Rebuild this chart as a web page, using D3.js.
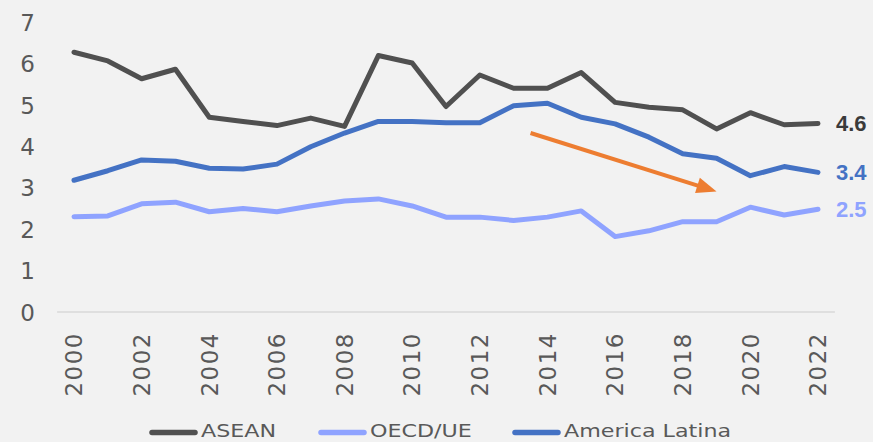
<!DOCTYPE html>
<html>
<head>
<meta charset="utf-8">
<script src="https://cdn.jsdelivr.net/npm/d3@7"></script>
<style>
  html, body { margin: 0; padding: 0; background: #f2f2f2; }
  svg { display: block; }
</style>
</head>
<body>
<svg id="chart" width="873" height="442"></svg>
<script>
const years = [2000,2001,2002,2003,2004,2005,2006,2007,2008,2009,2010,2011,2012,2013,2014,2015,2016,2017,2018,2019,2020,2021,2022];
const xTickYears = [2000,2002,2004,2006,2008,2010,2012,2014,2016,2018,2020,2022];
const yTicks = [0,1,2,3,4,5,6,7];
const seriesNames = ["ASEAN","OECD/UE","America Latina"];
const aseanValues = [6.27,6.06,5.63,5.86,4.70,4.60,4.50,4.68,4.48,6.19,6.01,4.96,5.72,5.40,5.40,5.78,5.06,4.94,4.88,4.42,4.81,4.52,4.55];
const oecdValues  = [2.30,2.32,2.61,2.65,2.42,2.50,2.42,2.56,2.68,2.73,2.56,2.29,2.29,2.21,2.29,2.44,1.82,1.96,2.18,2.18,2.53,2.34,2.48];
const latamValues = [3.18,3.41,3.67,3.64,3.47,3.45,3.57,3.99,4.32,4.60,4.60,4.57,4.57,4.98,5.04,4.70,4.54,4.22,3.82,3.71,3.29,3.51,3.37];
const endLabels = ["4.6","2.5","3.4"];
const seriesColors = ["#505050","#8fa3ff","#4472c4"];
const endLabelColors = ["#3a3a3a","#8fa3ff","#4472c4"];
// trend arrow annotation (in data coordinates: year, value)
const arrowFrom = [2013.5, 4.32];
const arrowTo = [2019.0, 2.91];

const series = [
  {name: seriesNames[0], values: aseanValues, color: seriesColors[0], label: endLabels[0], labelColor: endLabelColors[0]},
  {name: seriesNames[1], values: oecdValues, color: seriesColors[1], label: endLabels[1], labelColor: endLabelColors[1]},
  {name: seriesNames[2], values: latamValues, color: seriesColors[2], label: endLabels[2], labelColor: endLabelColors[2]}
];

const svg = d3.select("#chart");
svg.append("rect").attr("width", 873).attr("height", 442).attr("fill", "#f2f2f2");

const x = d3.scaleLinear().domain([2000, 2022]).range([74, 818]);
const y = d3.scaleLinear().domain([0, 7]).range([312, 22]);

// axis baseline
svg.append("line")
  .attr("x1", x(1999.5)).attr("x2", x(2022.5))
  .attr("y1", y(0)).attr("y2", y(0))
  .attr("stroke", "#d9d9d9").attr("stroke-width", 1.5);

// y axis labels
const yAxis = d3.axisLeft(y).tickValues(yTicks).tickSize(0).tickPadding(0).tickFormat(d3.format("d"));
const gy = svg.append("g").attr("transform", "translate(35,0)").call(yAxis);
gy.select(".domain").remove();
gy.selectAll("text")
  .attr("font-family", "DejaVu Sans, sans-serif")
  .attr("font-size", 23)
  .attr("fill", "#595959")
  .attr("x", 0)
  .attr("dy", "0.36em");

// x axis labels (rotated)
const xAxis = d3.axisBottom(x).tickValues(xTickYears).tickSize(0).tickFormat(d3.format("d"));
const gx = svg.append("g").call(xAxis);
gx.select(".domain").remove();
gx.selectAll(".tick").attr("transform", d => `translate(${x(d)},332)`);
gx.selectAll("text")
  .attr("font-family", "DejaVu Sans, sans-serif")
  .attr("font-size", 23)
  .attr("letter-spacing", 1.5)
  .attr("fill", "#595959")
  .attr("text-anchor", "end")
  .attr("x", 0).attr("y", 0)
  .attr("dy", "0.36em")
  .attr("transform", "rotate(-90)");

// lines
const line = d3.line().x((d, i) => x(years[i])).y(d => y(d));
const drawOrder = [1, 2, 0];
drawOrder.forEach(k => {
  const s = series[k];
  svg.append("path")
    .datum(s.values)
    .attr("d", line)
    .attr("fill", "none")
    .attr("stroke", s.color)
    .attr("stroke-width", 5)
    .attr("stroke-linejoin", "round")
    .attr("stroke-linecap", "round");
});

// end labels
series.forEach(s => {
  const last = s.values[s.values.length - 1];
  svg.append("text")
    .attr("x", x(years[years.length - 1]) + 18)
    .attr("y", y(last))
    .attr("dy", "0.36em")
    .attr("font-family", "Liberation Sans, Arial, sans-serif")
    .attr("font-weight", "bold")
    .attr("font-size", 22)
    .attr("fill", s.labelColor)
    .text(s.label);
});

// trend arrow
{
  const x1 = x(arrowFrom[0]), y1 = y(arrowFrom[1]);
  const x2 = x(arrowTo[0]), y2 = y(arrowTo[1]);
  const dx = x2 - x1, dy = y2 - y1, len = Math.hypot(dx, dy);
  const ux = dx / len, uy = dy / len;
  const headLen = 20, headHalf = 8;
  const bx = x2 - ux * headLen, by = y2 - uy * headLen;
  svg.append("line")
    .attr("x1", x1).attr("y1", y1).attr("x2", bx + ux * 2).attr("y2", by + uy * 2)
    .attr("stroke", "#ed7d31").attr("stroke-width", 4);
  svg.append("polygon")
    .attr("points", [[x2, y2], [bx - uy * headHalf, by + ux * headHalf], [bx + uy * headHalf, by - ux * headHalf]].map(p => p.join(",")).join(" "))
    .attr("fill", "#ed7d31");
}

// legend
const legendItems = [
  {name: seriesNames[0], color: seriesColors[0], x0: 149},
  {name: seriesNames[1], color: seriesColors[1], x0: 318},
  {name: seriesNames[2], color: seriesColors[2], x0: 512}
];
const legendY = 432.5;
legendItems.forEach(it => {
  svg.append("line")
    .attr("x1", it.x0 + 3).attr("x2", it.x0 + 46)
    .attr("y1", legendY).attr("y2", legendY)
    .attr("stroke", it.color).attr("stroke-width", 5.5)
    .attr("stroke-linecap", "round");
  svg.append("text")
    .attr("transform", `translate(${it.x0 + 52},437) scale(1.2,1)`)
    .attr("font-family", "DejaVu Sans, sans-serif")
    .attr("font-size", 18.5)
    .attr("fill", "#595959")
    .text(it.name);
});
</script>
</body>
</html>
